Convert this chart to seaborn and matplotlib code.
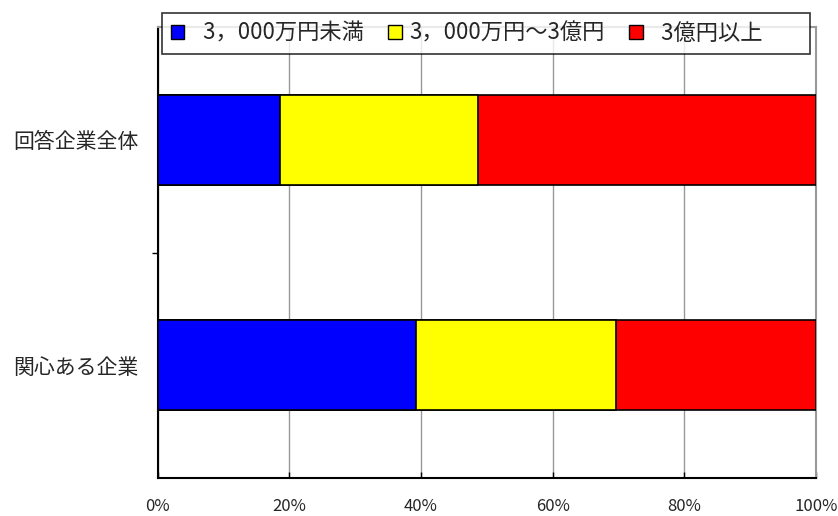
import matplotlib
matplotlib.use("Agg")
import matplotlib.pyplot as plt
import matplotlib.patches as mpatches
import seaborn as sns
import pandas as pd
import numpy as np

# Company groups and share of each sales band (%)
categories = ["回答企業全体", "関心ある企業"]
band_labels = ["\u20023，000万円未満", "3，000万円～3億円", "\u20023億円以上\u3000\u2002\u2009"]
under_30m = [18.6, 39.2]
from_30m_to_300m = [30.1, 30.4]
over_300m = [51.3, 30.4]
tick_labels = ["0%", "20%", "40%", "60%", "80%", "100%"]

colors = ["#0000FF", "#FFFF00", "#FF0000"]

sns.set_theme(style="white")
plt.rcParams["font.family"] = ["Noto Sans CJK JP", "DejaVu Sans"]

df = pd.DataFrame({
    "group": categories,
    "b1": under_30m,
    "b2": from_30m_to_300m,
    "b3": over_300m,
})
# cumulative right edges for stacking
df["c1"] = df["b1"]
df["c2"] = df["b1"] + df["b2"]
df["c3"] = df["b1"] + df["b2"] + df["b3"]

fig = plt.figure(figsize=(8.38, 5.16), dpi=100)
ax = fig.add_axes([157.5 / 838, 1 - 478 / 516, (816 - 157.5) / 838, (478 - 27) / 516])

# draw from the widest cumulative bar down so each segment shows
for col, color in zip(["c3", "c2", "c1"], colors[::-1]):
    sns.barplot(data=df, x=col, y="group", orient="h", color=color,
                edgecolor="black", linewidth=1.2, width=0.4, saturation=1,
                ax=ax, zorder=3)

ax.set_xlim(0, 100)
ax.set_ylim(1.5, -0.5)
ax.set_xlabel("")
ax.set_ylabel("")

ax.set_xticks(np.arange(0, 101, 20))
ax.set_xticklabels(tick_labels, fontsize=12)
ax.xaxis.grid(True, color="#999999", linewidth=1, zorder=0)
ax.yaxis.grid(False)
ax.tick_params(axis="x", direction="in", length=4, width=1, color="black",
               bottom=True, pad=14.5)
ax.tick_params(axis="y", length=0, pad=14, labelsize=15)
ax.set_yticks([0, 1])
ax.set_yticklabels(categories)
ax.set_yticks([0.5], minor=True)
ax.tick_params(axis="y", which="minor", direction="out", length=4, width=1,
               color="black", left=True)

for side in ["left", "bottom"]:
    ax.spines[side].set_color("black")
    ax.spines[side].set_linewidth(1.5)
for side in ["top", "right"]:
    ax.spines[side].set_color("#999999")
    ax.spines[side].set_linewidth(1.5)

handles = [mpatches.Patch(facecolor=c, edgecolor="black", linewidth=1) for c in colors]
leg = fig.legend(handles, band_labels, loc="upper left", ncol=3,
                 bbox_to_anchor=(162 / 838, 1 - 13 / 516),
                 frameon=True, fancybox=False, fontsize=16,
                 handlelength=0.6, handleheight=0.6, handletextpad=0.35,
                 columnspacing=1.1, borderpad=0.4, borderaxespad=0)
leg.get_frame().set_edgecolor("black")
leg.get_frame().set_linewidth(1.2)
leg.get_frame().set_facecolor("white")

fig.savefig("out.png", dpi=100, facecolor="white")
